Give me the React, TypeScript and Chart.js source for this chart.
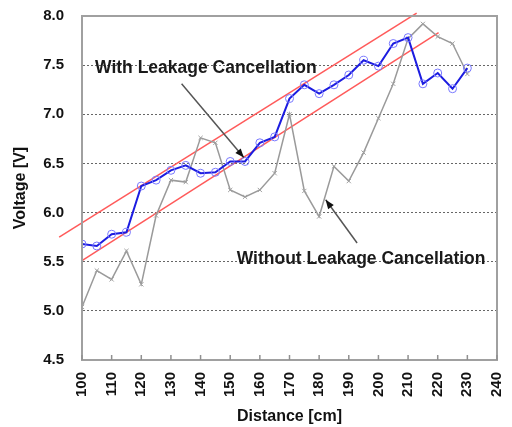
import { useEffect, useRef } from "react";
import { Chart, registerables } from "chart.js";

Chart.register(...registerables);

const distances = [100, 105, 110, 115, 120, 125, 130, 135, 140, 145, 150, 155, 160, 165, 170, 175, 180, 185, 190, 195, 200, 205, 210, 215, 220, 225, 230];
const withCancellation = [5.68, 5.66, 5.78, 5.8, 6.27, 6.33, 6.43, 6.48, 6.4, 6.41, 6.52, 6.52, 6.71, 6.77, 7.16, 7.3, 7.21, 7.3, 7.4, 7.55, 7.49, 7.72, 7.78, 7.31, 7.42, 7.26, 7.47];
const withoutCancellation = [5.04, 5.41, 5.32, 5.61, 5.27, 5.97, 6.33, 6.31, 6.76, 6.71, 6.23, 6.16, 6.23, 6.4, 7.0, 6.22, 5.96, 6.47, 6.32, 6.61, 6.96, 7.31, 7.77, 7.92, 7.79, 7.72, 7.41];
const upperBoundX = [92.3, 212.9];
const upperBoundY = [5.75, 8.03];
const lowerBoundX = [100, 220.3];
const lowerBoundY = [5.51, 7.83];

const labelWith = "With Leakage Cancellation";
const labelWithout = "Without Leakage Cancellation";

// annotation anchors in data coordinates
const annotations = [
  { text: labelWith, tx: 104.4, ty: 7.42, ax1: 133.6, ay1: 7.31, ax2: 154.6, ay2: 6.56 },
  { text: labelWithout, tx: 152.2, ty: 5.48, ax1: 192.8, ay1: 5.69, ax2: 182.2, ay2: 6.13 },
];

const FONT = "'Liberation Sans', Arial, sans-serif";

const toPoints = (xs: number[], ys: number[]) => xs.map((x, i) => ({ x, y: ys[i] }));

const decorPlugin = {
  id: "decor",
  afterDraw(chart: any) {
    const { ctx, chartArea, scales } = chart;
    const xs = scales.x;
    const ys = scales.y;
    ctx.save();
    // frame
    ctx.strokeStyle = "#a0a0a0";
    ctx.lineWidth = 2;
    ctx.setLineDash([]);
    ctx.strokeRect(chartArea.left, chartArea.top, chartArea.right - chartArea.left, chartArea.bottom - chartArea.top);
    // inward x ticks
    ctx.strokeStyle = "#909090";
    ctx.lineWidth = 1.5;
    xs.ticks.forEach((t: any) => {
      const px = xs.getPixelForValue(t.value);
      ctx.beginPath();
      ctx.moveTo(px, chartArea.bottom);
      ctx.lineTo(px, chartArea.bottom - 5);
      ctx.stroke();
    });
    // annotations
    annotations.forEach((a) => {
      const x1 = xs.getPixelForValue(a.ax1);
      const y1 = ys.getPixelForValue(a.ay1);
      const x2 = xs.getPixelForValue(a.ax2);
      const y2 = ys.getPixelForValue(a.ay2);
      ctx.strokeStyle = "#555";
      ctx.lineWidth = 1.5;
      ctx.beginPath();
      ctx.moveTo(x1, y1);
      ctx.lineTo(x2, y2);
      ctx.stroke();
      const ang = Math.atan2(y2 - y1, x2 - x1);
      const len = 9;
      const w = 3.5;
      ctx.fillStyle = "#111";
      ctx.beginPath();
      ctx.moveTo(x2, y2);
      ctx.lineTo(x2 - len * Math.cos(ang) + w * Math.sin(ang), y2 - len * Math.sin(ang) - w * Math.cos(ang));
      ctx.lineTo(x2 - len * Math.cos(ang) - w * Math.sin(ang), y2 - len * Math.sin(ang) + w * Math.cos(ang));
      ctx.closePath();
      ctx.fill();
      ctx.fillStyle = "#1a1a1a";
      ctx.font = `bold 17.5px ${FONT}`;
      ctx.textAlign = "left";
      ctx.textBaseline = "alphabetic";
      ctx.fillText(a.text, xs.getPixelForValue(a.tx), ys.getPixelForValue(a.ty));
    });
    ctx.restore();
  },
};

export default function App() {
  const ref = useRef<HTMLCanvasElement | null>(null);
  useEffect(() => {
    document.body.style.margin = "0";
    const canvas = ref.current;
    if (!canvas) return;
    const chart = new Chart(canvas, {
      type: "line",
      data: {
        datasets: [
          {
            label: labelWith,
            data: toPoints(distances, withCancellation),
            borderColor: "#1c1ce0",
            borderWidth: 2,
            pointStyle: "circle",
            pointRadius: 4,
            pointBorderColor: "#7878ff",
            pointBorderWidth: 1,
            pointBackgroundColor: "rgba(0,0,0,0)",
            tension: 0,
          },
          {
            label: labelWithout,
            data: toPoints(distances, withoutCancellation),
            borderColor: "#9a9a9a",
            borderWidth: 1.5,
            pointStyle: "crossRot",
            pointRadius: 3,
            pointBorderColor: "#a0a0a0",
            pointBorderWidth: 1,
            tension: 0,
          },
          {
            label: "upper",
            data: toPoints(upperBoundX, upperBoundY),
            borderColor: "#ff5a5a",
            borderWidth: 1.5,
            pointRadius: 0,
            clip: false as any,
          },
          {
            label: "lower",
            data: toPoints(lowerBoundX, lowerBoundY),
            borderColor: "#ff5a5a",
            borderWidth: 1.5,
            pointRadius: 0,
            clip: false as any,
          },
        ],
      },
      options: {
        responsive: false,
        animation: false,
        layout: { padding: { left: 0, top: 16, right: 15, bottom: 0 } },
        plugins: { legend: { display: false }, tooltip: { enabled: false } },
        scales: {
          x: {
            type: "linear",
            min: 100,
            max: 240,
            ticks: {
              stepSize: 10,
              minRotation: 90,
              maxRotation: 90,
              padding: 12,
              color: "#111",
              font: { family: FONT, weight: "bold", size: 15 },
            },
            grid: { drawOnChartArea: false, drawTicks: false },
            border: { color: "#a0a0a0", width: 2 },
            title: {
              display: true,
              text: "Distance [cm]",
              color: "#111",
              font: { family: FONT, weight: "bold", size: 16 },
              padding: { top: 0, bottom: 1 },
            },
            afterFit: (s: any) => {
              s.height = 67;
              s.paddingLeft = 0;
              s.paddingRight = 0;
            },
          },
          y: {
            min: 4.5,
            max: 8,
            ticks: {
              stepSize: 0.5,
              padding: 18,
              color: "#111",
              font: { family: FONT, weight: "bold", size: 15 },
              callback: (v: any) => Number(v).toFixed(1),
            },
            grid: {
              drawTicks: false,
              color: (c: any) => (c.tick && (c.tick.value === 4.5 || c.tick.value === 8) ? "rgba(0,0,0,0)" : "#666"),
              lineWidth: 1,
            },
            border: { color: "#a0a0a0", width: 2, dash: [2, 2] },
            title: {
              display: true,
              text: "Voltage [V]",
              color: "#111",
              font: { family: FONT, weight: "bold", size: 16 },
              padding: { top: 11, bottom: 0 },
            },
            afterFit: (s: any) => {
              s.width = 82;
              s.paddingTop = 0;
              s.paddingBottom = 0;
            },
          },
        },
      },
      plugins: [decorPlugin],
    });
    return () => chart.destroy();
  }, []);
  return (
    <div style={{ width: 512, height: 427 }}>
      <canvas ref={ref} width={512} height={427} />
    </div>
  );
}
